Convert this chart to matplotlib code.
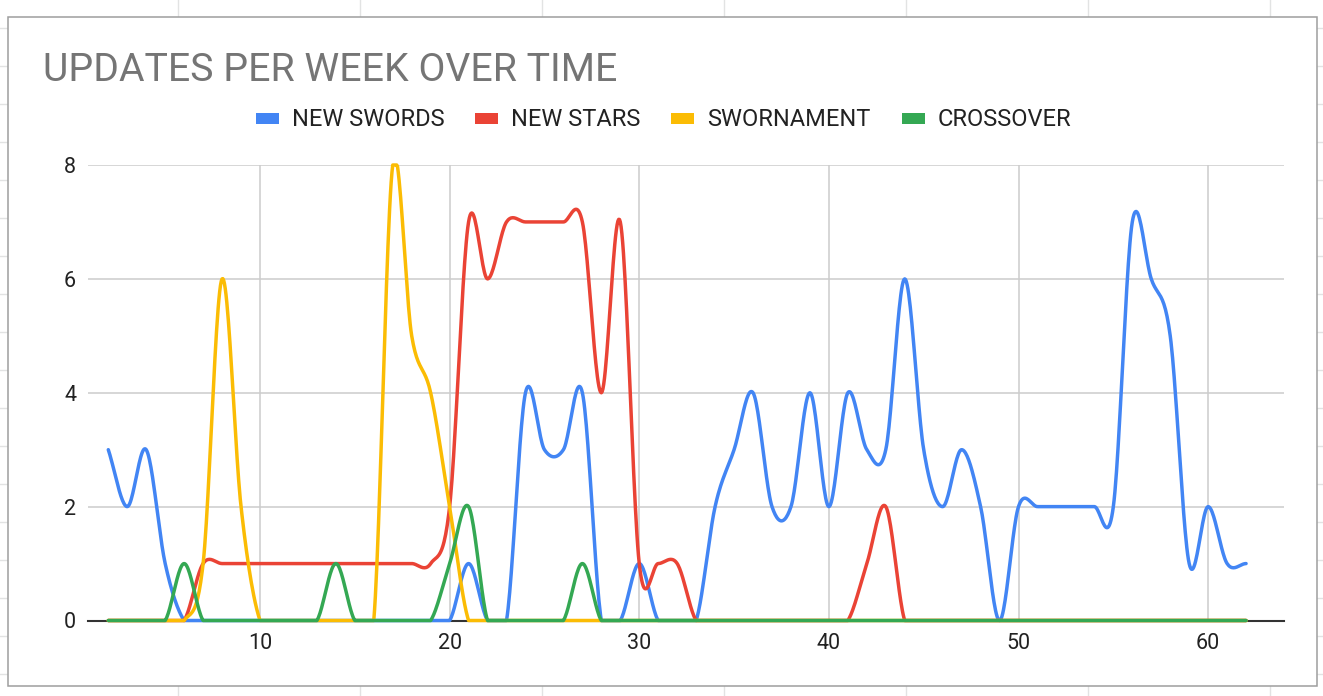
import numpy as np
import matplotlib.pyplot as plt
from matplotlib.lines import Line2D
from matplotlib.patches import Patch, Rectangle

# week numbers on the x axis
weeks = list(range(2, 63))

new_swords = [3, 2, 3, 1, 0, 0, 0, 0, 0, 0, 0, 0, 0, 0, 0, 0, 0, 0, 0, 1,
              0, 0, 4, 3, 3, 4, 0, 0, 1, 0, 0, 0, 2, 3, 4, 2, 2, 4, 2, 4,
              3, 3, 6, 3, 2, 3, 2, 0, 2, 2, 2, 2, 2, 2, 7, 6, 5, 1, 2, 1, 1]
new_stars = [0, 0, 0, 0, 0, 1, 1, 1, 1, 1, 1, 1, 1, 1, 1, 1, 1, 1, 2, 7,
             6, 7, 7, 7, 7, 7, 4, 7, 1, 1, 1, 0, 0, 0, 0, 0, 0, 0, 0, 0,
             1, 2, 0, 0, 0, 0, 0, 0, 0, 0, 0, 0, 0, 0, 0, 0, 0, 0, 0, 0, 0]
swornament = [0, 0, 0, 0, 0, 1, 6, 2, 0, 0, 0, 0, 0, 0, 0, 8, 5, 4, 2, 0,
              0, 0, 0, 0, 0, 0, 0, 0, 0, 0, 0, 0, 0, 0, 0, 0, 0, 0, 0, 0,
              0, 0, 0, 0, 0, 0, 0, 0, 0, 0, 0, 0, 0, 0, 0, 0, 0, 0, 0, 0, 0]
crossover = [0, 0, 0, 0, 1, 0, 0, 0, 0, 0, 0, 0, 1, 0, 0, 0, 0, 0, 1, 2,
             0, 0, 0, 0, 0, 1, 0, 0, 0, 0, 0, 0, 0, 0, 0, 0, 0, 0, 0, 0,
             0, 0, 0, 0, 0, 0, 0, 0, 0, 0, 0, 0, 0, 0, 0, 0, 0, 0, 0, 0, 0]

series_names = ["NEW SWORDS", "NEW STARS", "SWORNAMENT", "CROSSOVER"]
colors = ["#4285F4", "#EA4335", "#FBBC04", "#34A853"]

W, H = 1323, 696


def smooth(x, y, n=24):
    # catmull-rom style curve, like the sheets "smooth" option
    x = np.asarray(x, float)
    y = np.asarray(y, float)
    m = np.empty_like(y)
    m[1:-1] = (y[2:] - y[:-2]) / 2
    m[0] = y[1] - y[0]
    m[-1] = y[-1] - y[-2]
    xs, ys = [], []
    t = np.linspace(0, 1, n, endpoint=False)
    h00 = 2 * t**3 - 3 * t**2 + 1
    h10 = t**3 - 2 * t**2 + t
    h01 = -2 * t**3 + 3 * t**2
    h11 = t**3 - t**2
    for i in range(len(x) - 1):
        xs.append(x[i] + t * (x[i + 1] - x[i]))
        ys.append(h00 * y[i] + h10 * m[i] + h01 * y[i + 1] + h11 * m[i + 1])
    xs.append([x[-1]])
    ys.append([y[-1]])
    return np.concatenate(xs), np.concatenate(ys)


def fx(px):
    return px / W


def fy(py):
    return 1 - py / H


plt.rcParams['font.family'] = ['Roboto', 'DejaVu Sans']

fig = plt.figure(figsize=(W / 100, H / 100), dpi=100)
fig.patch.set_facecolor("white")

# spreadsheet cells peeking out around the chart
cell = "#e2e3e3"
for cx in range(178, W, 182):
    fig.add_artist(Line2D([fx(cx)] * 2, [fy(0), fy(17)], color=cell, lw=1, zorder=-3))
    fig.add_artist(Line2D([fx(cx)] * 2, [fy(686), fy(H)], color=cell, lw=1, zorder=-3))
for cy in range(28, H, 38):
    fig.add_artist(Line2D([fx(0), fx(8)], [fy(cy)] * 2, color=cell, lw=1, zorder=-3))
    fig.add_artist(Line2D([fx(1317), fx(W)], [fy(cy)] * 2, color=cell, lw=1, zorder=-3))
fig.add_artist(Rectangle((fx(8), fy(686)), fx(1317) - fx(8), fy(17) - fy(686),
                         facecolor="white", edgecolor="#9e9e9e", lw=1.1, zorder=-2))

ax = fig.add_axes([fx(88), fy(620.5), fx(1284) - fx(88), fy(165) - fy(620.5)])
ax.set_facecolor("none")

for vals, name, c in zip([new_swords, new_stars, swornament, crossover], series_names, colors):
    sx, sy = smooth(weeks, vals)
    sy = np.clip(sy, 0, 8.0)
    ax.plot(sx, sy, color=c, lw=2.5, label=name, clip_on=False, zorder=3,
            solid_capstyle="round", solid_joinstyle="round")

ax.set_xlim(0.93, 64.0)
ax.set_ylim(0, 8)
ax.set_xticks([10, 20, 30, 40, 50, 60])
ax.set_yticks([0, 2, 4, 6, 8])
ax.grid(True, color="#cccccc", lw=1.1)
ax.set_axisbelow(True)
for s in ["top", "right", "left"]:
    ax.spines[s].set_visible(False)
ax.spines["bottom"].set_color("#333333")
ax.spines["bottom"].set_linewidth(1.5)
ax.spines["bottom"].set_zorder(2)
ax.tick_params(length=0, labelsize=15.5, colors="#222222")
ax.tick_params(axis="x", pad=9)
ax.tick_params(axis="y", pad=8.5)

fig.text(fx(43), fy(81), "UPDATES PER WEEK OVER TIME", fontsize=28.3,
         color="#757575", ha="left", va="baseline")

handles = [Patch(facecolor=c, edgecolor="none", label=n) for n, c in zip(series_names, colors)]
fig.legend(handles=handles, loc="center", bbox_to_anchor=(fx(663.5), fy(120)),
           ncol=4, frameon=False, fontsize=17, handlelength=0.97, handleheight=0.34,
           handletextpad=0.55, columnspacing=1.31, labelcolor="#222222")

fig.savefig("out.png", dpi=100)
